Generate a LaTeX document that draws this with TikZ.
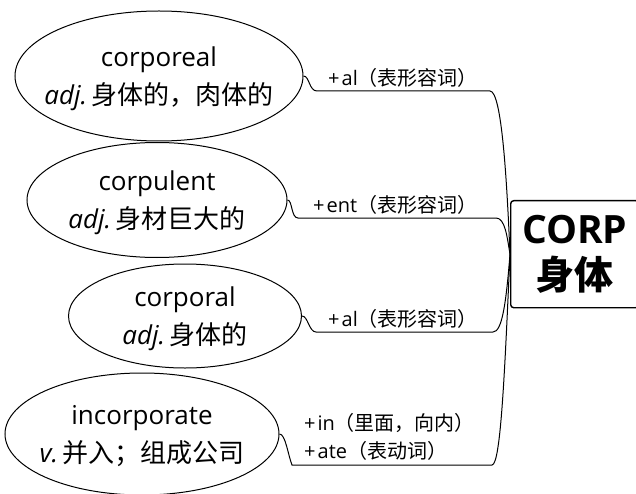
\documentclass[tikz,border=0pt]{standalone}
\usepackage{fontspec}
\setmainfont{Open Sans}
\newfontfamily\cjk{Noto Sans CJK SC}
\usetikzlibrary{shapes.geometric}
\tikzset{
  word/.style={draw, ellipse, line width=1pt, inner xsep=-40pt, inner ysep=0pt, align=center,
    text depth=0pt, font=\fontsize{26}{38}\selectfont},
  affix/.style={inner sep=0pt, align=left, anchor=south west,
    font=\fontsize{20}{28}\selectfont},
  link/.style={line width=1pt},
  rootbox/.style={draw, line width=1.4pt, rounded corners=3pt, align=center,
    inner sep=0pt, font=\bfseries\fontsize{39}{46}\selectfont}
}
\newcommand\plus{+\kern2pt}
\begin{document}
\begin{tikzpicture}[x=1pt, y=-1pt]
  \useasboundingbox[fill=white] (0,0) rectangle (636,494);

  % root
  \node[rootbox, minimum width=128pt, minimum height=107pt, anchor=north west] (root) at (510,200)
    {CORP\\{\cjk 身体}};

  % words
  \node[word, minimum width=288pt, minimum height=130pt] (corporeal) at (159,76)
    {corporeal\\\textit{adj.}\,{\cjk 身体的，肉体的}};
  \node[word, minimum width=260pt, minimum height=115pt] (corpulent) at (157,200)
    {corpulent\\\textit{adj.}\,{\cjk 身材巨大的}};
  \node[word, minimum width=233pt, minimum height=104pt] (corporal) at (185,316)
    {corporal\\\textit{adj.}\,{\cjk 身体的}};
  \node[word, minimum width=274pt, minimum height=122pt] (incorporate) at (142,434)
    {incorporate\\\textit{v.}\,{\cjk 并入；组成公司}};

  % affixes
  \node[affix] (al) at (328,88) {\plus al{\cjk （表形容词）}};
  \node[affix] (ent) at (313,215) {\plus ent{\cjk （表形容词）}};
  \node[affix] (al2) at (328,329) {\plus al{\cjk （表形容词）}};
  \node[affix] (inate) at (304,461) {\plus in{\cjk （里面，向内）}\\\plus ate{\cjk （表动词）}};

  % links
  \draw[link] (corporeal.east) .. controls +(6,0) and +(-8,0) .. (317,91) -- (490,91)
    .. controls +(12,0) and +(-3,-70) .. (root.west);
  \draw[link] (corpulent.east) .. controls +(5,0) and +(-7,0) .. (298,218) -- (496,218)
    .. controls +(9,0) and +(-3,-18) .. (root.west);
  \draw[link] (corporal.east) .. controls +(6,0) and +(-7,0) .. (316,332) -- (493,332)
    .. controls +(9,0) and +(-4,50) .. (root.west);
  \draw[link] (incorporate.east) .. controls +(6,0) and +(-4,-10) .. (292,465) -- (492,465)
    .. controls +(9,0) and +(-5,110) .. (root.west);
\end{tikzpicture}
\end{document}
